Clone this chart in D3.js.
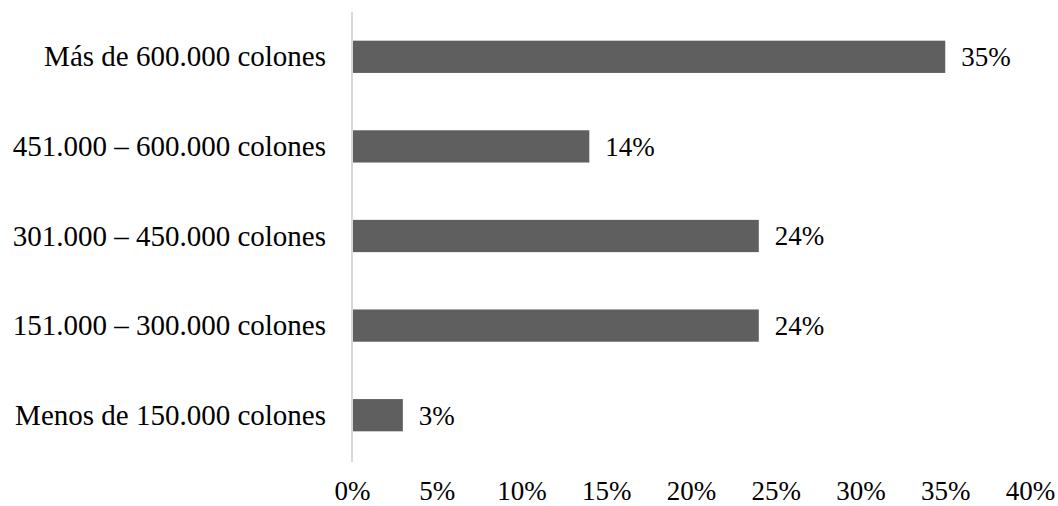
<!DOCTYPE html>
<html>
<head>
<meta charset="utf-8">
<script src="https://cdn.jsdelivr.net/npm/d3@7"></script>
<style>
  html, body { margin: 0; padding: 0; background: #fff; }
  svg text { font-family: "Liberation Serif", "Times New Roman", serif; fill: #000; }
</style>
</head>
<body>
<svg id="chart" width="1058" height="506"></svg>
<script>
// Income brackets, top to bottom
const categories = [
  "Más de 600.000 colones",
  "451.000 – 600.000 colones",
  "301.000 – 450.000 colones",
  "151.000 – 300.000 colones",
  "Menos de 150.000 colones"
];
const values = [35, 14, 24, 24, 3];
const tickValues = [0, 5, 10, 15, 20, 25, 30, 35, 40];

const svg = d3.select("#chart");
const x0 = 352, x1 = 1030;
const yTop = 12, yBottom = 460;

const x = d3.scaleLinear().domain([0, 40]).range([x0, x1]);
const y = d3.scaleBand().domain(categories).range([yTop, yBottom])
  .paddingInner(0.64).paddingOuter(0.32);

// Bars
svg.append("g").selectAll("rect")
  .data(values)
  .join("rect")
  .attr("x", x(0) + 1)
  .attr("y", (d, i) => y(categories[i]))
  .attr("width", d => x(d) - x(0) - 1)
  .attr("height", y.bandwidth())
  .attr("fill", "#5f5f5f");

// Vertical baseline
svg.append("line")
  .attr("x1", x(0)).attr("x2", x(0))
  .attr("y1", yTop).attr("y2", yBottom + 2)
  .attr("stroke", "#d9d9d9").attr("stroke-width", 2);

// Value labels
svg.append("g").selectAll("text")
  .data(values)
  .join("text")
  .attr("x", d => x(d) + 16)
  .attr("y", (d, i) => y(categories[i]) + y.bandwidth() / 2)
  .attr("dy", "0.35em")
  .style("font-size", "27px")
  .text(d => d + "%");

// Category labels
const yAxis = d3.axisLeft(y).tickSize(0).tickPadding(26);
const gy = svg.append("g").attr("transform", `translate(${x0},0)`).call(yAxis);
gy.select(".domain").remove();
gy.selectAll("text").style("font-size", "29px").attr("dy", "0.33em");

// Percentage axis
const xAxis = d3.axisBottom(x).tickValues(tickValues).tickSize(0).tickPadding(0)
  .tickFormat(d => d + "%");
const gx = svg.append("g").attr("transform", `translate(0,500)`).call(xAxis);
gx.select(".domain").remove();
gx.selectAll("text").style("font-size", "27px").attr("y", 0).attr("dy", 0);
</script>
</body>
</html>
